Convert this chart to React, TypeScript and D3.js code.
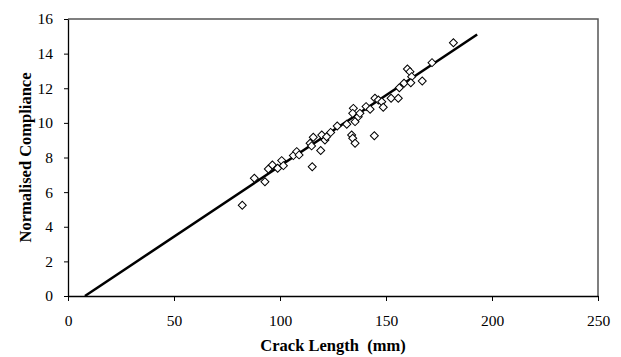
import React, { useRef, useEffect } from 'react';
import * as d3 from 'd3';

// scatter: crack length (mm) vs normalised compliance
const crackLength = [
  82.2, 87.9, 92.9, 94.5, 96.4, 98.9, 100.8, 101.6, 106.3, 107.9, 109.0, 115.2,
  114.2, 115.7, 114.9, 119.2, 119.7, 121.2, 122.0, 123.9, 127.0, 131.5, 133.8,
  134.3, 135.4, 134.6, 134.3, 135.4, 136.9, 137.7, 140.6, 142.5, 144.5, 144.8,
  146.4, 148.0, 148.7, 152.4, 155.8, 156.3, 158.5, 160.1, 161.3, 162.1, 161.7,
  167.1, 171.7, 181.8,
];
const compliance = [
  5.24, 6.8, 6.6, 7.34, 7.57, 7.38, 7.82, 7.53, 8.11, 8.34, 8.15, 7.47,
  8.82, 9.17, 8.67, 8.4, 9.3, 9.01, 9.2, 9.45, 9.82, 9.92, 9.3,
  9.11, 8.82, 10.84, 10.55, 10.07, 10.36, 10.55, 10.94, 10.79, 9.26, 11.42,
  11.32, 11.22, 10.9, 11.42, 11.42, 12.03, 12.29, 13.11, 12.96, 12.67, 12.32,
  12.42, 13.48, 14.63,
];

// fitted line end points
const fitX = [8, 193];
const fitY = [0, 15.1];

const xTicks = [0, 50, 100, 150, 200, 250];
const yTicks = [0, 2, 4, 6, 8, 10, 12, 14, 16];

export default function App() {
  const ref = useRef<SVGSVGElement>(null);

  useEffect(() => {
    const svg = d3.select(ref.current);
    svg.selectAll('*').remove();

    const width = 621;
    const height = 357;
    const left = 68, right = 598, top = 19, bottom = 296;

    svg.attr('width', width).attr('height', height);

    const x = d3.scaleLinear().domain([0, 250]).range([left, right]);
    const y = d3.scaleLinear().domain([0, 16]).range([bottom, top]);

    const font = '"Liberation Serif", "Times New Roman", serif';

    // frame: top and right grey
    svg.append('path')
      .attr('d', `M${left},${top}H${right}V${bottom}`)
      .attr('fill', 'none')
      .attr('stroke', '#555')
      .attr('stroke-width', 1.5);

    // axes
    const xAxis = svg.append('g')
      .attr('transform', `translate(0,${bottom})`)
      .call(d3.axisBottom(x).tickValues(xTicks).tickSize(5).tickSizeOuter(0).tickPadding(14));
    const yAxis = svg.append('g')
      .attr('transform', `translate(${left},0)`)
      .call(d3.axisLeft(y).tickValues(yTicks).tickSize(4).tickSizeOuter(0).tickPadding(11));

    [xAxis, yAxis].forEach(a => {
      a.attr('font-family', null).attr('font-size', null);
      a.select('.domain').attr('stroke', '#000').attr('stroke-width', 1.3);
      a.selectAll('.tick line').attr('stroke', '#000').attr('stroke-width', 1);
      a.selectAll('.tick text')
        .attr('fill', '#000')
        .style('font-family', font)
        .style('font-size', '15.5px');
    });

    // fitted line
    svg.append('line')
      .attr('x1', x(fitX[0])).attr('y1', y(fitY[0]))
      .attr('x2', x(fitX[1])).attr('y2', y(fitY[1]))
      .attr('stroke', '#000')
      .attr('stroke-width', 2.5);

    // data points
    const diamond = d3.symbol().type(d3.symbolSquare).size(32);
    svg.append('g')
      .selectAll('path')
      .data(crackLength.map((c, i) => [c, compliance[i]]))
      .join('path')
        .attr('d', diamond)
        .attr('transform', d => `translate(${x(d[0])},${y(d[1])}) rotate(45)`)
        .attr('fill', '#fff')
        .attr('stroke', '#000')
        .attr('stroke-width', 1);

    // axis titles
    svg.append('text')
      .attr('x', (left + right) / 2)
      .attr('y', 351)
      .attr('text-anchor', 'middle')
      .style('font-family', font)
      .style('font-size', '16.5px')
      .style('font-weight', 'bold')
      .style('white-space', 'pre')
      .text('Crack Length  (mm)');

    svg.append('text')
      .attr('transform', `translate(31,${(top + bottom) / 2}) rotate(-90)`)
      .attr('text-anchor', 'middle')
      .style('font-family', font)
      .style('font-size', '16.5px')
      .style('font-weight', 'bold')
      .text('Normalised Compliance');
  }, []);

  return <svg ref={ref} style={{ position: 'absolute', left: 0, top: 0 }} />;
}
